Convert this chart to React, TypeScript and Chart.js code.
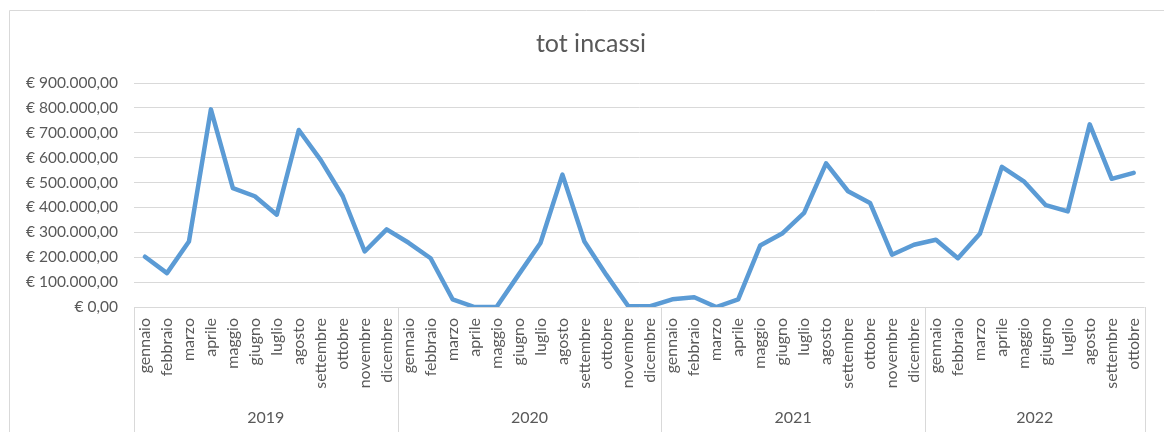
import React, { useEffect, useRef } from "react";
import { Chart, registerables } from "chart.js";

Chart.register(...registerables);

const years = ["2019", "2020", "2021", "2022"];
const monthNames = [
  "gennaio", "febbraio", "marzo", "aprile", "maggio", "giugno",
  "luglio", "agosto", "settembre", "ottobre", "novembre", "dicembre",
];
const incassi2019 = [202000, 136000, 263000, 794000, 478000, 445000, 371000, 711000, 590000, 445000, 223000, 312000];
const incassi2020 = [258000, 196000, 31000, 0, 0, 129000, 257000, 532000, 263000, 129000, 3000, 3000];
const incassi2021 = [31000, 39000, 0, 31000, 247000, 295000, 378000, 577000, 465000, 418000, 210000, 250000];
const incassi2022 = [270000, 196000, 294000, 563000, 505000, 409000, 384000, 734000, 515000, 539000];
const seriesByYear = [incassi2019, incassi2020, incassi2021, incassi2022];

const titleText = "tot incassi";
const yMin = 0;
const yMax = 900000;
const yStep = 100000;

const TEXT = "#595959";
const GRID = "#d9d9d9";
const LINE = "#5b9bd5";
const FONT = "Lato, 'Open Sans', sans-serif";

function formatEuro(v: number): string {
  const s = Math.round(v).toString().replace(/\B(?=(\d{3})+(?!\d))/g, ".");
  return "€ " + s + ",00";
}

const labels: string[] = [];
const values: number[] = [];
const groupSizes: number[] = [];
seriesByYear.forEach((arr) => {
  groupSizes.push(arr.length);
  arr.forEach((v, i) => {
    labels.push(monthNames[i]);
    values.push(v);
  });
});

const decorPlugin = {
  id: "decor",
  afterDraw(chart: any) {
    const ctx = chart.ctx as CanvasRenderingContext2D;
    const xs = chart.scales.x;
    const area = chart.chartArea;
    const H = chart.height;
    const W = chart.width;
    ctx.save();
    // chart border
    ctx.strokeStyle = GRID;
    ctx.lineWidth = 1;
    ctx.beginPath();
    ctx.moveTo(9.5, H);
    ctx.lineTo(9.5, 10.5);
    ctx.lineTo(W, 10.5);
    ctx.stroke();

    // title
    ctx.fillStyle = TEXT;
    ctx.font = `25px ${FONT}`;
    ctx.textAlign = "center";
    ctx.textBaseline = "alphabetic";
    ctx.fillText(titleText, W / 2 + 9, 52);

    // year groups
    const n = labels.length;
    const boundary = (i: number) => {
      if (i <= 0) return area.left;
      if (i >= n) return area.right;
      return (xs.getPixelForValue(i - 1) + xs.getPixelForValue(i)) / 2;
    };
    let start = 0;
    ctx.font = `16px ${FONT}`;
    ctx.textBaseline = "middle";
    const bounds: number[] = [boundary(0)];
    groupSizes.forEach((size, gi) => {
      const l = boundary(start);
      const r = boundary(start + size);
      bounds.push(r);
      ctx.fillText(years[gi], (l + r) / 2, 418);
      start += size;
    });
    ctx.strokeStyle = GRID;
    ctx.lineWidth = 1;
    bounds.forEach((b) => {
      const x = Math.round(b) + 0.5;
      ctx.beginPath();
      ctx.moveTo(x, area.bottom);
      ctx.lineTo(x, H);
      ctx.stroke();
    });
    ctx.restore();
  },
};

export default function App() {
  const ref = useRef<HTMLCanvasElement | null>(null);
  useEffect(() => {
    if (!ref.current) return;
    const chart = new Chart(ref.current, {
      type: "line",
      data: {
        labels,
        datasets: [
          {
            data: values,
            borderColor: LINE,
            backgroundColor: LINE,
            borderWidth: 4.5,
            pointRadius: 0,
            tension: 0,
            borderJoinStyle: "round",
            borderCapStyle: "round",
          },
        ],
      },
      options: {
        responsive: false,
        animation: false,
        layout: { padding: { top: 83, right: 12, left: 0, bottom: 0 } },
        plugins: {
          legend: { display: false },
          title: { display: false },
          tooltip: { enabled: false },
        },
        scales: {
          x: {
            type: "category",
            offset: true,
            grid: { display: false, drawTicks: false },
            border: { display: false },
            ticks: {
              autoSkip: false,
              maxRotation: 90,
              minRotation: 90,
              padding: 11,
              color: TEXT,
              font: { family: FONT, size: 16 },
            },
            afterFit: (s: any) => {
              s.height = 125;
            },
          },
          y: {
            min: yMin,
            max: yMax,
            ticks: {
              stepSize: yStep,
              padding: 16,
              color: TEXT,
              font: { family: FONT, size: 15.5 },
              callback: (v: any) => formatEuro(Number(v)),
            },
            grid: { color: GRID, lineWidth: 1, drawTicks: false },
            border: { display: false },
            afterFit: (s: any) => {
              s.width = 134;
            },
          },
        },
      },
      plugins: [decorPlugin],
    });
    return () => chart.destroy();
  }, []);
  return (
    <div style={{ position: "fixed", left: 0, top: 0, width: 1164, height: 432, background: "#fff" }}>
      <canvas ref={ref} width={1164} height={432} style={{ display: "block" }} />
    </div>
  );
}
